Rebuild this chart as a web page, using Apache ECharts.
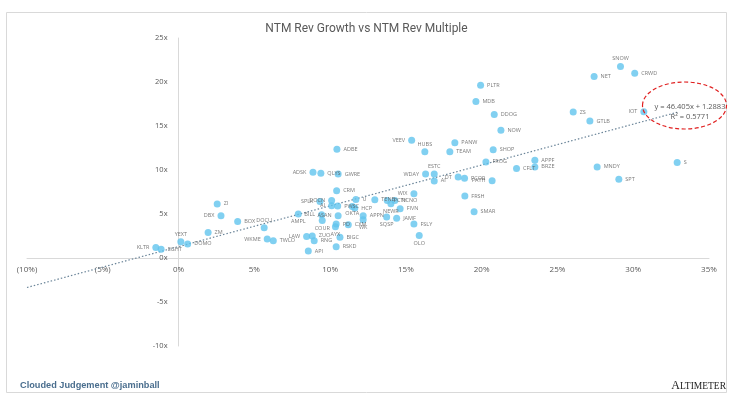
<!DOCTYPE html>
<html lang="en">
<head>
    <meta charset="UTF-8">
    <title>NTM Rev Growth vs NTM Rev Multiple</title>
    <script src="https://cdn.jsdelivr.net/npm/echarts@6/dist/echarts.min.js"></script>
    <style>
        html, body { margin: 0; padding: 0; background: #fff; }
    </style>
</head>
<body>
<div id="main" style="width: 733px;height: 398px;"></div>
</body>
    <script type="text/javascript">
        // tickers, NTM revenue growth (%), NTM revenue multiple (x)
        var tickers = ['KLTR', 'EGHT', 'YEXT', 'DOMO', 'ZM', 'DBX', 'ZI', 'BOX', 'DOCU', 'WKME',
            'TWLO', 'LAW', 'ZUO', 'RNG', 'API', 'AMPL', 'BILL', 'COUR', 'SPLK', 'AI',
            'PWSC', 'DOCN', 'CRM', 'ASAN', 'OKTA', 'HCP', 'U', 'APPN', 'WK', 'CXM',
            'PD', 'AYX', 'BIGC', 'RSKD', 'TENB', 'PCTY', 'NEWR', 'NCNO', 'FIVN', 'SQSP',
            'JAMF', 'FSLY', 'WIX', 'OLO', 'ADSK', 'QLYS', 'GWRE', 'ADBE', 'VEEV', 'HUBS',
            'WDAY', 'ESTC', 'AI', 'DT', 'PCOR', 'PATH', 'FRSH', 'SMAR', 'PANW', 'TEAM',
            'NOW', 'SHOP', 'FROG', 'CFLT', 'APPF', 'BRZE', 'PLTR', 'MDB', 'DDOG', 'ZS',
            'GTLB', 'NET', 'SNOW', 'CRWD', 'IOT', 'MNDY', 'SPT', 'S'];
        var growth = [-1.5, -1.15, 0.15, 0.6, 1.95, 2.8, 2.55, 3.9, 5.65, 5.85,
            6.25, 8.45, 8.82, 8.95, 8.56, 7.9, 9.44, 9.48, 9.33, 10.1,
            10.5, 10.1, 10.43, 10.53, 11.46, 11.63, 11.7, 12.18, 12.18, 11.2,
            10.4, 10.35, 10.65, 10.4, 12.95, 13.77, 14.01, 14.27, 14.62, 13.73,
            14.39, 15.53, 15.53, 15.88, 8.87, 9.39, 10.53, 10.45, 15.38, 16.25,
            16.3, 16.87, 16.87, 18.45, 18.87, 20.69, 18.89, 19.5, 18.23, 17.9,
            21.27, 20.76, 20.28, 22.3, 23.51, 23.51, 19.93, 19.62, 20.83, 26.04,
            27.14, 27.42, 29.16, 30.1, 30.7, 27.62, 29.05, 32.9];
        var multiple = [1.2, 1.0, 1.85, 1.6, 2.9, 4.8, 6.15, 4.15, 3.45, 2.15,
            1.95, 2.43, 2.51, 1.97, 0.8, 4.99, 4.91, 4.26, 6.43, 5.93,
            5.9, 6.54, 7.65, 4.79, 5.86, 5.67, 6.65, 4.79, 4.34, 3.77,
            3.85, 3.55, 2.36, 1.29, 6.62, 6.54, 6.16, 6.54, 5.59, 4.65,
            4.53, 3.85, 7.3, 2.55, 9.74, 9.62, 9.55, 12.36, 13.39, 12.07,
            9.55, 9.55, 8.76, 9.21, 9.05, 8.79, 7.04, 5.25, 13.09, 12.07,
            14.53, 12.29, 10.92, 10.16, 11.11, 10.35, 19.63, 17.77, 16.32, 16.59,
            15.56, 20.63, 21.77, 21.0, 16.63, 10.35, 8.94, 10.84];

        var xTicks = [-10, -5, 0, 5, 10, 15, 20, 25, 30, 35];
        var yTicks = [-10, -5, 0, 5, 10, 15, 20, 25];

        // linear trendline as printed on the chart: y = 46.405x + 1.2883 (x as fraction)
        var trendSlope = 46.405;
        var trendIntercept = 1.2883;
        var trendRange = [-10, 32.9];

        // where each data label sits relative to its dot
        var labelPlacement = {
            0: 'l', 1: 'r', 2: 't', 3: 'rb', 4: 'rt', 5: 'l', 6: 'r', 7: 'rt', 8: 't', 9: 'lb',
            10: 'r', 11: 'lb', 12: 'rt', 13: 'rb', 14: 'r', 15: 'b', 16: 'l', 17: 'b', 18: 'l', 19: 'lt',
            20: 'rt', 21: 'lt', 22: 'rt', 23: 'l', 24: 'b', 25: 'rb', 26: 'r', 27: 'r', 28: 'b', 29: 'r',
            30: 'rt', 31: 'b', 32: 'r', 33: 'rb', 34: 'rt', 35: 'rb', 36: 'b', 37: 'r', 38: 'r', 39: 'b',
            40: 'rt', 41: 'r', 42: 'lt', 43: 'b', 44: 'l', 45: 'rt', 46: 'rb', 47: 'rt', 48: 'l', 49: 't',
            50: 'lt', 51: 't', 52: 'r', 53: 'lb', 54: 'rt', 55: 'l', 56: 'rb', 57: 'rb', 58: 'r', 59: 'rb',
            60: 'r', 61: 'rb', 62: 'r', 63: 'rb', 64: 'rt', 65: 'r', 66: 'r', 67: 'rt', 68: 'r', 69: 'rt',
            70: 'r', 71: 'r', 72: 't', 73: 'r', 74: 'l', 75: 'r', 76: 'rb', 77: 'r'
        };

        function labelFor(code) {
            var base = { show: true, formatter: '{b}', fontSize: 5.5, color: '#595959', fontFamily: 'Open Sans', distance: 3 };
            if (code === 'l') { base.position = 'left'; }
            else if (code === 't') { base.position = 'top'; base.distance = 1; }
            else if (code === 'b') { base.position = 'bottom'; base.distance = 1; }
            else if (code === 'rb') { base.position = 'right'; base.offset = [0, 5]; }
            else if (code === 'rt') { base.position = 'right'; base.offset = [0, -5]; }
            else if (code === 'lb') { base.position = 'left'; base.offset = [0, 5]; }
            else if (code === 'lt') { base.position = 'left'; base.offset = [0, -5]; }
            else { base.position = 'right'; }
            return base;
        }

        var points = [];
        for (var i = 0; i < tickers.length; i++) {
            points.push({
                name: tickers[i],
                value: [growth[i], multiple[i]],
                label: labelFor(labelPlacement[i])
            });
        }

        var trendData = [];
        for (var j = 0; j < trendRange.length; j++) {
            trendData.push([trendRange[j], trendSlope * trendRange[j] / 100 + trendIntercept]);
        }

        // grid box; axes are drawn through the origin like the spreadsheet chart
        var gridLeft = 27, gridRight = 24, gridTop = 38, gridBottom = 52;
        var plotW = 733 - gridLeft - gridRight;
        var plotH = 398 - gridTop - gridBottom;
        var yAxisShift = plotW * (0 - xTicks[0]) / (xTicks[xTicks.length - 1] - xTicks[0]);
        var xAxisShift = plotH * (0 - yTicks[0]) / (yTicks[yTicks.length - 1] - yTicks[0]);

        var myChart = echarts.init(document.getElementById('main'));

        var option = {
            backgroundColor: '#fff',
            animation: false,
            title: {
                text: 'NTM Rev Growth vs NTM Rev Multiple',
                left: 'center',
                top: 18,
                textStyle: {
                    fontFamily: 'Roboto',
                    fontSize: 12,
                    fontWeight: 'normal',
                    color: '#595959'
                }
            },
            grid: {
                left: gridLeft,
                right: gridRight,
                top: gridTop,
                bottom: gridBottom
            },
            xAxis: {
                type: 'value',
                min: xTicks[0],
                max: xTicks[xTicks.length - 1],
                interval: 5,
                offset: -xAxisShift,
                axisLine: { onZero: false, lineStyle: { color: '#d9d9d9' } },
                axisTick: { show: false },
                splitLine: { show: false },
                axisLabel: {
                    color: '#595959',
                    fontSize: 8,
                    fontFamily: 'Open Sans',
                    margin: 8,
                    formatter: function (v) {
                        return v < 0 ? '(' + Math.abs(v) + '%)' : v + '%';
                    }
                }
            },
            yAxis: {
                type: 'value',
                min: yTicks[0],
                max: yTicks[yTicks.length - 1],
                interval: 5,
                offset: -yAxisShift,
                axisLine: { show: true, onZero: false, lineStyle: { color: '#d9d9d9' } },
                axisTick: { show: false },
                splitLine: { show: false },
                axisLabel: {
                    color: '#595959',
                    fontSize: 7.5,
                    fontFamily: 'Open Sans',
                    margin: 11,
                    formatter: '{value}x'
                }
            },
            series: [{
                name: 'trend',
                type: 'line',
                data: trendData,
                symbol: 'none',
                silent: true,
                z: 1,
                lineStyle: { color: '#6b8599', width: 1.2, type: [1.5, 2] }
            }, {
                name: 'companies',
                type: 'scatter',
                data: points,
                symbolSize: 7,
                z: 3,
                itemStyle: { color: '#62c4ee' },
                labelLayout: { hideOverlap: false }
            }],
            graphic: [{
                type: 'rect',
                shape: { x: 6.5, y: 12.5, width: 720, height: 380 },
                style: { fill: 'none', stroke: '#d9d9d9', lineWidth: 1 },
                silent: true
            }, {
                type: 'ellipse',
                shape: { cx: 684.5, cy: 105.5, rx: 42, ry: 23.5 },
                style: { fill: 'none', stroke: '#e02020', lineWidth: 1.2, lineDash: [4, 2.5] },
                z: 10
            }, {
                type: 'text',
                x: 690, y: 107,
                style: {
                    text: 'y = 46.405x + 1.2883',
                    fill: '#595959', fontSize: 7.5, fontFamily: 'Open Sans',
                    align: 'center', verticalAlign: 'middle'
                },
                z: 11
            }, {
                type: 'text',
                x: 690, y: 117,
                style: {
                    text: 'R² = 0.5771',
                    fill: '#595959', fontSize: 7.5, fontFamily: 'Open Sans',
                    align: 'center', verticalAlign: 'middle'
                },
                z: 11
            }, {
                type: 'text',
                x: 20, y: 385,
                style: {
                    text: 'Clouded Judgement @jaminball',
                    fill: '#4a6e8e', fontSize: 9.2, fontWeight: 'bold', fontFamily: 'Liberation Sans',
                    verticalAlign: 'middle'
                }
            }, {
                type: 'text',
                x: 726, y: 386,
                style: {
                    text: '{a|A}{b|LTIMETER}',
                    align: 'right', verticalAlign: 'middle',
                    rich: {
                        a: { fontSize: 12, fontFamily: 'Liberation Serif', fill: '#222' },
                        b: { fontSize: 9.5, fontFamily: 'Liberation Serif', fill: '#222' }
                    }
                }
            }]
        };

        myChart.setOption(option);
    </script>
</html>
